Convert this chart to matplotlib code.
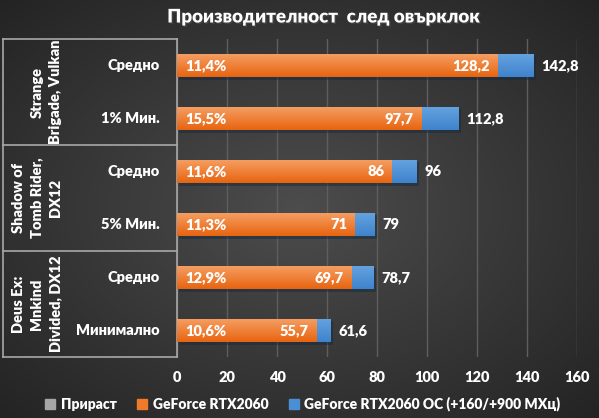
import numpy as np
import matplotlib
matplotlib.use("Agg")
import matplotlib.pyplot as plt
from matplotlib.patches import Patch
from matplotlib.lines import Line2D
import matplotlib.patheffects as pe

plt.rcParams['font.family'] = ['Lato', 'DejaVu Sans']
FW = 'heavy'

groups = ["Strange\nBrigade, Vulkan", "Shadow of\nTomb Rider,\nDX12", "Deus Ex:\nMnkind\nDivided, DX12"]
subcats = ["Средно", "1% Мин.", "Средно", "5% Мин.", "Средно", "Минимално"]
base = [128.2, 97.7, 86, 71, 69.7, 55.7]
oc = [142.8, 112.8, 96, 79, 78.7, 61.6]
gain = ["11,4%", "15,5%", "11,6%", "11,3%", "12,9%", "10,6%"]
xticks = [0, 20, 40, 60, 80, 100, 120, 140, 160]
title = "Производителност  след овърклок"
legend_labels = ["Прираст", "GeForce RTX2060", "GeForce RTX2060 OC (+160/+900 МХц)"]

W, H = 599, 418
fig = plt.figure(figsize=(W/100, H/100), dpi=100)

# background radial gradient
bg = fig.add_axes([0, 0, 1, 1], zorder=-10)
yy, xx = np.mgrid[0:1:200j, 0:1:300j]
r = np.sqrt(((xx-0.5)/0.75)**2 + ((yy-0.5)/0.75)**2)
val = 0.30 - 0.17*np.clip(r, 0, 1)
bg.imshow(np.dstack([val, val, val]), extent=[0, 1, 0, 1], aspect='auto', origin='lower')
bg.set_axis_off()

ax = fig.add_axes([177/W, (H-357)/H, 400/W, 318/H])
ax.set_facecolor('none')
n = len(subcats)
y = np.arange(n)
ax.set_xticks(xticks)
ax.set_xticklabels([str(t) for t in xticks], color='white', fontsize=10.5, fontweight=FW)
ax.set_yticks([])
ax.tick_params(axis='x', length=0, pad=10)
for s in ['top', 'right', 'bottom']:
    ax.spines[s].set_visible(False)
ax.spines['left'].set_color('#a8a8a8')
ax.spines['left'].set_linewidth(1.2)
ax.grid(axis='x', color='#5e5e5e', linewidth=1)
ax.set_axisbelow(True)

bh = 0.45

def grad_bar(patch, c_top, c_bot):
    x0, y0 = patch.get_x(), patch.get_y()
    w, h = patch.get_width(), patch.get_height()
    g = np.linspace(0, 1, 50)[:, None]
    c1 = np.array(matplotlib.colors.to_rgb(c_top))
    c2 = np.array(matplotlib.colors.to_rgb(c_bot))
    img = c1[None, None, :]*(1-g[:, :, None]) + c2[None, None, :]*g[:, :, None]
    im = ax.imshow(img, extent=[x0, x0+w, y0+h, y0], aspect='auto', zorder=patch.get_zorder()+0.1)
    im.set_clip_path(patch)

shadow = [pe.SimplePatchShadow(offset=(1.5, -2), alpha=0.5), pe.Normal()]
b2 = ax.barh(y, oc, height=bh, color='#4a8ed6', zorder=3, path_effects=shadow)
b1 = ax.barh(y, base, height=bh, color='#f07a2a', zorder=4)
for p in b2:
    grad_bar(p, '#66a3e0', '#3f83cc')
for p in b1:
    grad_bar(p, '#f5a065', '#e8640f')
ax.set_xlim(0, 160)
ax.set_ylim(n-0.5, -0.5)

for i in range(n):
    ax.text(3.5, y[i], gain[i], color='white', fontsize=10.5, fontweight=FW, va='center', ha='left', zorder=6)
    ax.text(base[i]-3, y[i], f"{base[i]:g}".replace('.', ','), color='white', fontsize=10.5,
            fontweight=FW, va='center', ha='right', zorder=6)
    ax.text(oc[i]+3, y[i], f"{oc[i]:g}".replace('.', ','), color='white', fontsize=10.5,
            fontweight=FW, va='center', ha='left', zorder=6)
    ax.annotate(subcats[i], xy=(0, y[i]), xycoords=('axes fraction', 'data'),
                xytext=(-17, 0), textcoords='offset pixels', ha='right', va='center',
                color='white', fontsize=10.5, fontweight=FW, annotation_clip=False)

# group labels (rotated, last line aligned near x=57px)
for gi, g in enumerate(groups):
    yc = gi*2 + 0.5
    ax.annotate(g, xy=(0, yc), xycoords=('axes fraction', 'data'),
                xytext=(-(177-62), 0), textcoords='offset pixels', ha='right', va='center',
                rotation=90, color='white', fontsize=10.5, fontweight=FW,
                linespacing=1.5, multialignment='center', annotation_clip=False)

# separator lines (figure coordinates)
for yb in [39, 145, 251, 357]:
    fig.add_artist(Line2D([3/W, 177/W], [(H-yb)/H, (H-yb)/H], color='#a8a8a8', lw=1.2))
fig.add_artist(Line2D([3/W, 3/W], [(H-357)/H, (H-39)/H], color='#a8a8a8', lw=1.2))

fig.text(324/W, (H-17)/H, title, color='white', fontsize=13.5, fontweight=FW, ha='center',
         va='center', path_effects=[pe.SimplePatchShadow(offset=(1, -1), alpha=0.6), pe.Normal()])

handles = [Patch(color='#a6a6a6'), Patch(color='#f07a2a'), Patch(color='#4a8ed6')]
leg = fig.legend(handles, legend_labels, loc='center', bbox_to_anchor=(303/W, (H-404)/H), ncol=3,
                 frameon=False, fontsize=10, handlelength=0.7, handleheight=0.7,
                 handletextpad=0.4, columnspacing=1.5)
for t in leg.get_texts():
    t.set_color('white')
    t.set_fontweight(FW)

fig.savefig('out.png', dpi=100)
